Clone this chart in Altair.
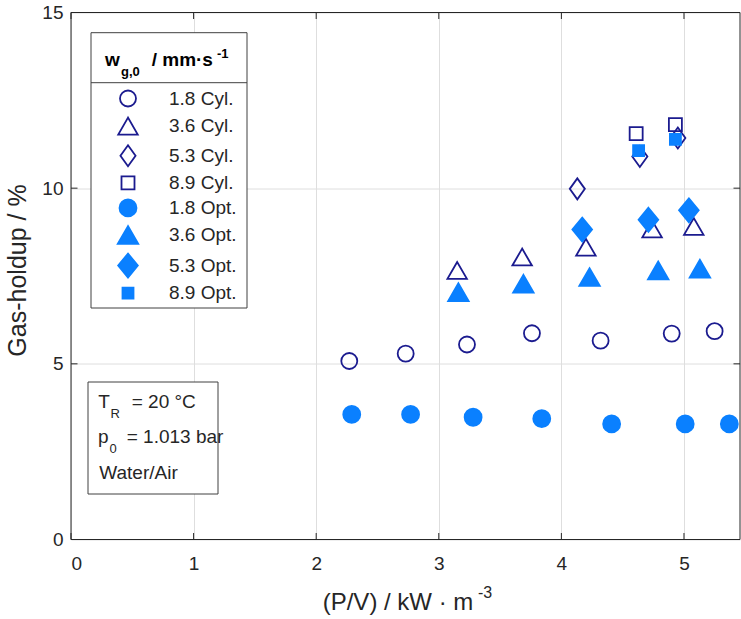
import altair as alt
import pandas as pd

# ---------------- data ----------------
series = ["1.8 Cyl.", "3.6 Cyl.", "5.3 Cyl.", "8.9 Cyl.",
          "1.8 Opt.", "3.6 Opt.", "5.3 Opt.", "8.9 Opt."]

x_c18 = [2.27, 2.73, 3.23, 3.76, 4.32, 4.90, 5.25]
y_c18 = [5.08, 5.29, 5.55, 5.87, 5.66, 5.86, 5.93]
x_c36 = [3.15, 3.68, 4.20, 4.74, 5.08]
y_c36 = [7.66, 8.04, 8.32, 8.84, 8.91]
x_c53 = [4.13, 4.64, 4.95]
y_c53 = [9.98, 10.90, 11.43]
x_c89 = [4.61, 4.93]
y_c89 = [11.55, 11.81]

x_o18 = [2.29, 2.77, 3.28, 3.84, 4.41, 5.01, 5.37]
y_o18 = [3.56, 3.56, 3.48, 3.44, 3.29, 3.29, 3.29]
x_o36 = [3.16, 3.69, 4.23, 4.79, 5.13]
y_o36 = [7.04, 7.28, 7.47, 7.66, 7.71]
x_o53 = [4.17, 4.71, 5.04]
y_o53 = [8.82, 9.10, 9.37]
x_o89 = [4.63, 4.93]
y_o89 = [11.07, 11.39]

x_ticks = [0, 1, 2, 3, 4, 5]
y_ticks = [0, 5, 10, 15]

xs_all = [x_c18, x_c36, x_c53, x_c89, x_o18, x_o36, x_o53, x_o89]
ys_all = [y_c18, y_c36, y_c53, y_c89, y_o18, y_o36, y_o53, y_o89]

rows = []
for name, xs, ys in zip(series, xs_all, ys_all):
    for xv, yv in zip(xs, ys):
        rows.append({"x": xv, "y": yv, "series": name})
df = pd.DataFrame(rows)

# ---------------- styling ----------------
NAVY = "#1b1b8f"
BLUE = "#0a80ff"
DARK = "#262626"
FONT = "Liberation Sans"
W, H = 669, 527

shapes = ["circle", "triangle-up", "M0,-1L0.72,0L0,1L-0.72,0Z", "square",
          "circle", "triangle-up", "M0,-1L0.82,0L0,1L-0.82,0Z", "square"]
fills = ["transparent"] * 4 + [BLUE] * 4
strokes = [NAVY] * 4 + [BLUE] * 4
sizes = [256, 380, 441, 169, 289, 420, 576, 121]

xscale = alt.Scale(domain=[0, 5.457], nice=False, zero=False)
yscale = alt.Scale(domain=[0, 15], nice=False, zero=False)
xaxis = alt.Axis(title=None, values=x_ticks, format="d", labelPadding=15,
                 ticks=False, domain=False, grid=True)
yaxis = alt.Axis(title=None, values=y_ticks, format="d", labelPadding=8,
                 ticks=False, domain=False, grid=True)

points = alt.Chart(df).mark_point(opacity=1, strokeWidth=1.8).encode(
    x=alt.X("x:Q", scale=xscale, axis=xaxis),
    y=alt.Y("y:Q", scale=yscale, axis=yaxis),
    shape=alt.Shape("series:N", scale=alt.Scale(domain=series, range=shapes)),
    fill=alt.Fill("series:N", scale=alt.Scale(domain=series, range=fills)),
    stroke=alt.Stroke("series:N", scale=alt.Scale(domain=series, range=strokes)),
    size=alt.Size("series:N", scale=alt.Scale(type="ordinal", domain=series, range=sizes)),
)

tickdf_x = pd.DataFrame({"x": x_ticks})
tickdf_y = pd.DataFrame({"y": y_ticks})
xt_bottom = alt.Chart(tickdf_x).mark_rule(color=DARK, strokeWidth=1).encode(
    x=alt.X("x:Q", scale=xscale, axis=xaxis), y=alt.value(H), y2=alt.value(H - 6.5))
xt_top = alt.Chart(tickdf_x).mark_rule(color=DARK, strokeWidth=1).encode(
    x=alt.X("x:Q", scale=xscale, axis=xaxis), y=alt.value(0), y2=alt.value(6.5))
yt_left = alt.Chart(tickdf_y).mark_rule(color=DARK, strokeWidth=1).encode(
    y=alt.Y("y:Q", scale=yscale, axis=yaxis), x=alt.value(0), x2=alt.value(6.5))
yt_right = alt.Chart(tickdf_y).mark_rule(color=DARK, strokeWidth=1).encode(
    y=alt.Y("y:Q", scale=yscale, axis=yaxis), x=alt.value(W), x2=alt.value(W - 6.5))

one = pd.DataFrame({"a": [0]})


def line(x1, y1, x2, y2, color=DARK):
    return alt.Chart(one).mark_rule(color=color, strokeWidth=1).encode(
        x=alt.value(x1), x2=alt.value(x2), y=alt.value(y1), y2=alt.value(y2))


def box(x1, y1, x2, y2):
    return alt.Chart(one).mark_rect(fill="white", stroke="#404040", strokeWidth=1).encode(
        x=alt.value(x1), x2=alt.value(x2), y=alt.value(y1), y2=alt.value(y2))


def txt(s, x, y, size=19, weight="normal", color=DARK, align="left", angle=0):
    return alt.Chart(one).mark_text(
        text=s, font=FONT, fontSize=size, fontWeight=weight, color=color,
        align=align, baseline="alphabetic", angle=angle).encode(
        x=alt.value(x), y=alt.value(y))


frame = [line(0, 0, W, 0), line(0, H, W, H), line(0, 0, 0, H), line(W, 0, W, H)]

legend_box = box(20, 20.2, 176, 295.5)
legend_sep = line(20, 70.2, 176, 70.2, "#404040")
header = [
    txt("w", 34, 53.2, 19, "bold", "black"),
    txt("g,0", 50, 63.5, 13, "bold", "black"),
    txt("/ mm·s", 80.7, 53.2, 19, "bold", "black"),
    txt("-1", 146, 45.5, 13, "bold", "black"),
]

note_box = box(17, 369.5, 147, 481.5)
note = [
    txt("T", 27.3, 395.8),
    txt("R", 39.5, 405.5, 13),
    txt("= 20 °C", 60.7, 395.8),
    txt("p", 27, 430.8),
    txt("0", 38.5, 440.5, 13),
    txt("= 1.013 bar", 55.7, 430.8),
    txt("Water/Air", 28.3, 466.8),
]

titles = [
    txt("(P/V) / kW · m", 251.7, 597.5, 24),
    txt("-3", 407, 585.5, 16),
    txt("Gas-holdup / %", -45, 258, 25, align="center", angle=270),
]

chart = alt.layer(
    points, *frame, xt_bottom, xt_top, yt_left, yt_right,
    note_box, *note, legend_box, legend_sep, *header, *titles,
).properties(
    width=W, height=H,
    autosize=alt.AutoSizeParams(type="none"),
    padding={"left": 71, "top": 12.5, "right": 1, "bottom": 79.5},
).configure_view(
    stroke=None
).configure_axis(
    labelFont=FONT, labelFontSize=19, labelColor=DARK,
    gridColor="#dedede", gridWidth=1, gridOpacity=1,
).configure_legend(
    orient="none", legendX=44, legendY=76.5, padding=0, title=None,
    labelFont=FONT, labelFontSize=19, labelColor=DARK,
    rowPadding=2.1, symbolOffset=0, labelOffset=28, symbolStrokeWidth=1.8,
    strokeColor="transparent", fillColor="transparent",
)

chart.save("out.html", embed_options={"renderer": "svg", "actions": False})
